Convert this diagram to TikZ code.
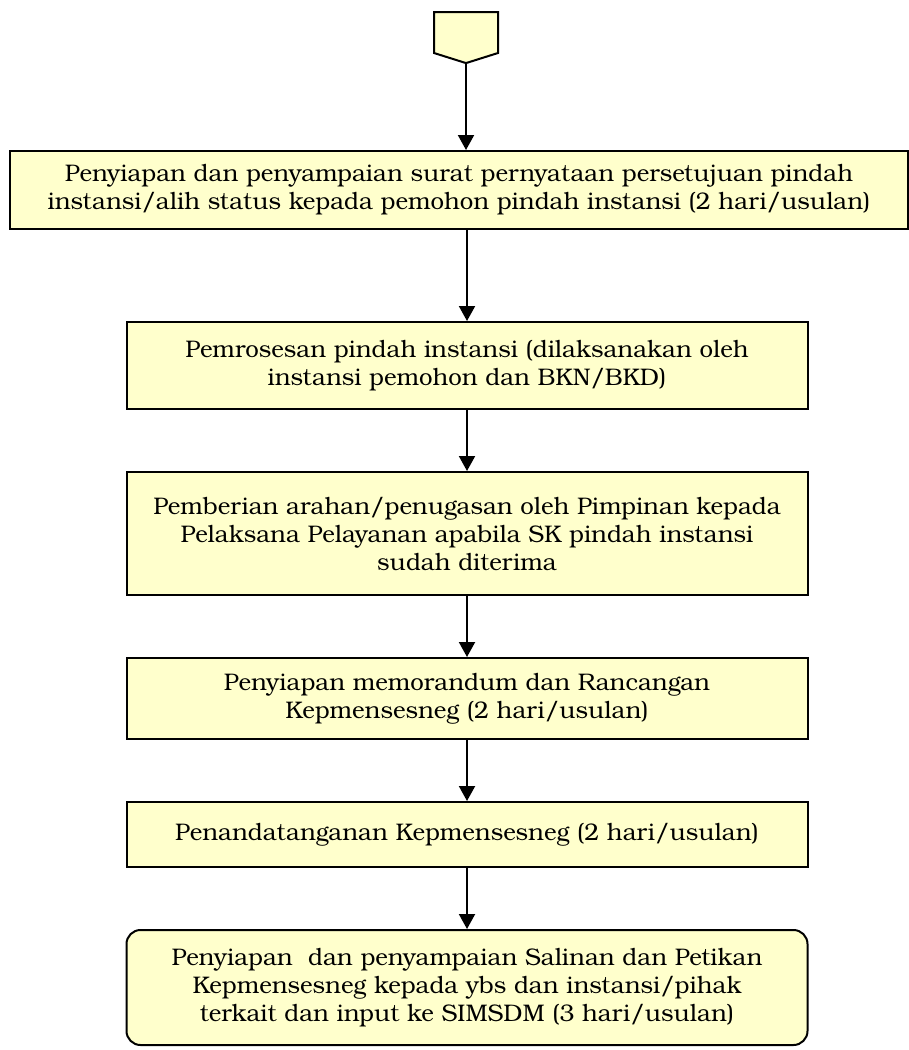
\documentclass[tikz,border=0pt]{standalone}
\usepackage{fontspec}
\setmainfont{TeX Gyre Bonum}
\usetikzlibrary{positioning,chains,shapes.symbols,arrows.meta}
\definecolor{boxyellow}{RGB}{255,255,204}

\begin{document}
\begin{tikzpicture}[x=1pt,y=1pt,
    every node/.style={draw,line width=2pt,fill=boxyellow,align=center,inner sep=0pt,
      font=\fontsize{24}{28}\selectfont},
    stepbox/.style={rectangle,minimum width=681pt},
    lastbox/.style={rectangle,rounded corners=14pt,minimum width=681pt},
    offpage/.style={signal,signal to=south,signal pointer angle=145,
      minimum width=64pt,minimum height=41pt},
    arr/.style={-{Triangle[width=16pt,length=15pt]},line width=2pt}
  ]
  \useasboundingbox (0,0) rectangle (909,-1050);

  % the off-page connector
  \node[offpage,anchor=north] (start) at (466,-11) {};

  % the first, wide step
  \node[rectangle,minimum width=898pt,minimum height=78pt] (b1) at (459,-190)
    {Penyiapan dan penyampaian surat pernyataan persetujuan pindah\\
     instansi/alih status kepada pemohon pindah instansi (2 hari/usulan)};

  % the other steps
  \begin{scope}[start chain=going below,node distance=61pt]
    \node[stepbox,on chain,minimum height=87pt] (b2) at (467,-365.5)
      {Pemrosesan pindah instansi (dilaksanakan oleh\\ instansi pemohon dan BKN/BKD)};
    \node[stepbox,on chain,minimum height=123pt] (b3)
      {Pemberian arahan/penugasan oleh Pimpinan kepada\\ Pelaksana Pelayanan apabila SK pindah instansi\\ sudah diterima};
    \node[stepbox,on chain,minimum height=81pt] (b4)
      {Penyiapan memorandum dan Rancangan\\ Kepmensesneg (2 hari/usulan)};
    \node[stepbox,on chain,minimum height=65pt] (b5)
      {Penandatanganan Kepmensesneg (2 hari/usulan)};
    \node[lastbox,on chain,minimum height=115pt] (b6)
      {Penyiapan\ \ dan penyampaian Salinan dan Petikan\\ Kepmensesneg kepada ybs dan instansi/pihak\\ terkait dan input ke SIMSDM (3 hari/usulan)};
  \end{scope}

  % the arrows
  \draw[arr] (start) -- (start |- b1.north);
  \draw[arr] (b1.south -| b2) -- (b2);
  \draw[arr] (b2) -- (b3);
  \draw[arr] (b3) -- (b4);
  \draw[arr] (b4) -- (b5);
  \draw[arr] (b5) -- (b6);
\end{tikzpicture}
\end{document}
